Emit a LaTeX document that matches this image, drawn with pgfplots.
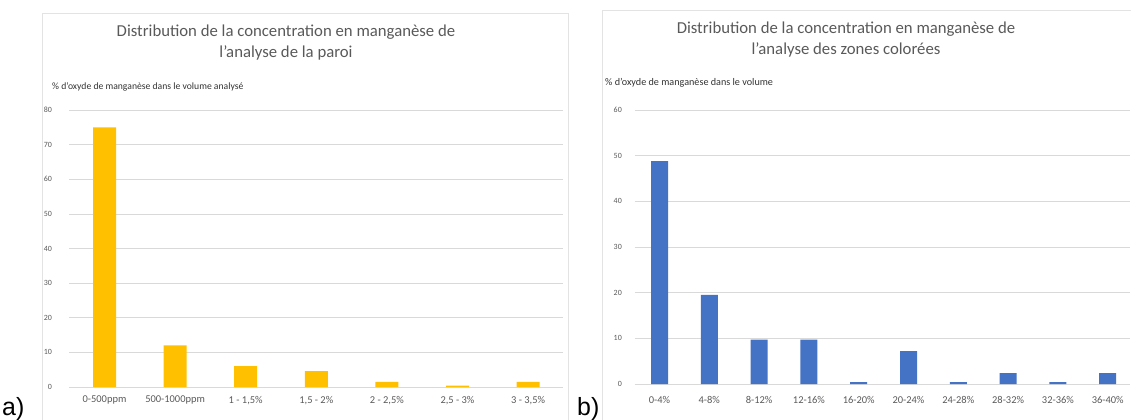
\documentclass[border=0pt]{standalone}
\usepackage{fontspec}
\setmainfont{Carlito}
\newfontfamily\arialfont{Liberation Sans}
\usepackage{pgfplots}
\pgfplotsset{compat=1.18}
\definecolor{gold}{HTML}{FFC000}
\definecolor{exblue}{HTML}{4472C4}
\definecolor{txtgray}{HTML}{595959}
\definecolor{gridgray}{HTML}{D9D9D9}
\definecolor{framegray}{HTML}{E3E3E3}
\pgfplotsset{
  excel/.style={
    scale only axis,
    axis line style={draw=none},
    ymajorgrids,
    grid style={gridgray, line width=0.7bp},
    major tick length=0pt,
    ymin=0,
    clip=false,
    /pgf/number format/assume math mode=true,
    tick label style={text=txtgray},
    x tick label style={font=\fontsize{10.5}{12}\selectfont, anchor=north, inner sep=0pt},
    y tick label style={font=\fontsize{8}{9}\selectfont, anchor=east, inner sep=0pt},
  }
}
\begin{document}
\begin{tikzpicture}[x=1bp,y=1bp]
\path[use as bounding box] (0,0) rectangle (1131,419);
% chart frames
\draw[framegray, line width=0.8bp] (42,-1) rectangle (568,406);
\draw[framegray, line width=0.8bp] (602,-1) rectangle (1140,409);

% ---------- left chart ----------
\begin{axis}[excel,
  at={(69.2bp,32bp)}, anchor=south west,
  width=494.2bp, height=277bp,
  xmin=-0.5, xmax=6.5, ymax=80,
  ytick={0,10,...,80},
  xtick={0,...,6},
  xticklabels={0-500ppm,500-1000ppm,1 - 1{,}5\%,1{,}5 - 2\%,2 - 2{,}5\%,2{,}5 - 3\%,3 - 3{,}5\%},
  x tick label style={yshift=-9bp},
  y tick label style={xshift=-17bp},
]
\addplot[ybar, fill=gold, draw=none, bar width=23bp] coordinates {
 (0,75) (1,12) (2,6) (3,4.6) (4,1.5) (5,0.4) (6,1.5)};
\end{axis}
\node[anchor=base, text=txtgray, font=\fontsize{16.8}{19}\selectfont] at (286,383) {Distribution de la concentration en manganèse de};
\node[anchor=base, text=txtgray, font=\fontsize{16.8}{19}\selectfont] at (286,362) {l'analyse de la paroi};
\node[anchor=base west, inner sep=0pt, text=black!80, font=\fontsize{9.7}{11}\selectfont] at (52,330) {\% d'oxyde de manganèse dans le volume analysé};
\node[anchor=base west, inner sep=0pt, font=\arialfont\fontsize{25}{28}\selectfont] at (2,4) {a)};

% ---------- right chart ----------
\begin{axis}[excel,
  at={(634.6bp,35bp)}, anchor=south west,
  width=495.5bp, height=274bp,
  xmin=-0.5, xmax=9.45, ymax=60,
  ytick={0,10,...,60},
  xtick={0,...,9},
  xticklabels={0-4\%,4-8\%,8-12\%,12-16\%,16-20\%,20-24\%,24-28\%,28-32\%,32-36\%,36-40\%},
  x tick label style={yshift=-12bp},
  y tick label style={xshift=-12.6bp},
]
\addplot[ybar, fill=exblue, draw=none, bar width=17bp] coordinates {
 (0,48.8) (1,19.5) (2,9.7) (3,9.7) (4,0.4) (5,7.2) (6,0.4) (7,2.4) (8,0.4) (9,2.4)};
\end{axis}
\node[anchor=base, text=txtgray, font=\fontsize{16.8}{19}\selectfont] at (846,386) {Distribution de la concentration en manganèse de};
\node[anchor=base, text=txtgray, font=\fontsize{16.8}{19}\selectfont] at (846,365) {l'analyse des zones colorées};
\node[anchor=base west, inner sep=0pt, text=black!80, font=\fontsize{10.2}{11}\selectfont] at (605,334) {\% d'oxyde de manganèse dans le volume};
\node[anchor=base west, inner sep=0pt, font=\arialfont\fontsize{25}{28}\selectfont] at (577,4) {b)};
\end{tikzpicture}
\end{document}
